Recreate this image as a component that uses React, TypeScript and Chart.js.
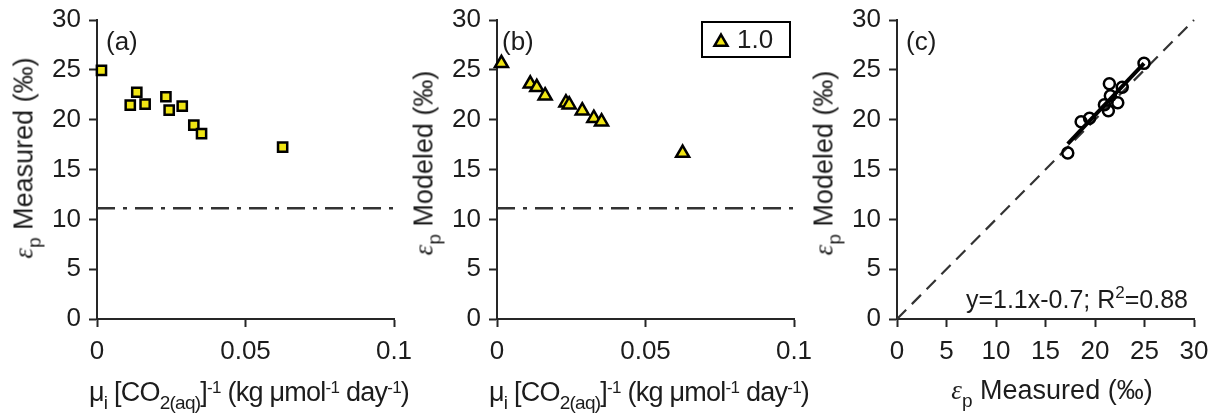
import React, { useEffect, useRef } from 'react';
import { Chart, registerables } from 'chart.js';

Chart.register(...registerables);

const FONT = '"Liberation Sans", Arial, Helvetica, sans-serif';
const INK = '#1c1c1c';
const AXIS = '#262626';
const YELLOW = '#f0e514';

// ---- data ----
const rateValues = [0.0015, 0.0112, 0.0134, 0.0162, 0.0232, 0.0243, 0.0287, 0.0326, 0.0352, 0.0625];
const measuredEps = [24.95, 21.45, 22.75, 21.55, 22.3, 20.95, 21.35, 19.45, 18.6, 17.25];
const modeledEps = [25.65, 23.6, 23.25, 22.4, 21.7, 21.5, 20.9, 20.15, 19.8, 16.65];
const epsFLevel = 11.1;
const epsFLineX = [0, 0.1];
const identityLine = [0, 30];
const rateTicks = [0, 0.05, 0.1];
const rateTickLabels = ['0', '0.05', '0.1'];
const epsTicks = [0, 5, 10, 15, 20, 25, 30];
const epsTickLabels = ['0', '5', '10', '15', '20', '25', '30'];
const panelLabels = ['(a)', '(b)', '(c)'];
const legendLabel = '1.0';
const fitLabelMain = 'y=1.1x-0.7; R';
const fitLabelSup = '2';
const fitLabelEnd = '=0.88';

function linearFit(xs: number[], ys: number[]) {
  const n = xs.length;
  const mx = xs.reduce((a, b) => a + b, 0) / n;
  const my = ys.reduce((a, b) => a + b, 0) / n;
  let sxy = 0, sxx = 0;
  for (let i = 0; i < n; i++) {
    sxy += (xs[i] - mx) * (ys[i] - my);
    sxx += (xs[i] - mx) * (xs[i] - mx);
  }
  const slope = sxy / sxx;
  return { slope, intercept: my - slope * mx };
}

const fit = linearFit(measuredEps, modeledEps);
const fitRange = [Math.min(...measuredEps), Math.max(...measuredEps)];

// ---- axes ----
function axis(kind: 'x' | 'y', min: number, max: number, ticks: number[], labels: string[]) {
  return {
    type: 'linear',
    min,
    max,
    afterBuildTicks: (s: any) => {
      s.ticks = ticks.map((v) => ({ value: v }));
    },
    afterFit: (s: any) => {
      if (kind === 'x') {
        s.height = 97;
        s.paddingLeft = 0;
        s.paddingRight = 0;
      } else {
        s.width = 97;
        s.paddingTop = 0;
        s.paddingBottom = 0;
      }
    },
    grid: {
      display: true,
      drawOnChartArea: false,
      drawTicks: true,
      tickLength: 8,
      tickColor: AXIS,
      tickWidth: 2,
    },
    border: { display: true, color: AXIS, width: 2 },
    ticks: {
      color: INK,
      font: { family: FONT, size: 26 },
      padding: kind === 'x' ? 9 : 8,
      maxRotation: 0,
      minRotation: 0,
      autoSkip: false,
      callback: (_v: any, i: number) => labels[i] ?? '',
    },
  };
}

function annotPlugin(panel: number) {
  return {
    id: 'annot' + panel,
    afterDraw(chart: any) {
      const { ctx, chartArea: ca } = chart;
      ctx.save();
      ctx.fillStyle = INK;
      ctx.textBaseline = 'alphabetic';
      ctx.textAlign = 'left';
      ctx.font = `26px ${FONT}`;
      const offs = [9, 5, 9];
      ctx.fillText(panelLabels[panel], ca.left + offs[panel], ca.top + 30);

      if (panel === 1) {
        const bx = ca.right - 92;
        const by = ca.top + 2;
        ctx.lineWidth = 2;
        ctx.strokeStyle = '#000';
        ctx.fillStyle = '#fff';
        ctx.fillRect(bx, by, 88, 35);
        ctx.strokeRect(bx, by, 88, 35);
        const cx = bx + 19;
        const cy = by + 20;
        const r = 7.5;
        ctx.beginPath();
        ctx.moveTo(cx, cy - r);
        ctx.lineTo(cx + r * Math.sin(Math.PI / 3), cy + r / 2);
        ctx.lineTo(cx - r * Math.sin(Math.PI / 3), cy + r / 2);
        ctx.closePath();
        ctx.fillStyle = YELLOW;
        ctx.lineWidth = 2.5;
        ctx.fill();
        ctx.stroke();
        ctx.fillStyle = INK;
        ctx.font = `26px ${FONT}`;
        ctx.fillText(legendLabel, bx + 35, by + 26);
      }

      if (panel === 2) {
        const big = `25px ${FONT}`;
        const small = `17px ${FONT}`;
        ctx.font = big;
        const w1 = ctx.measureText(fitLabelMain).width;
        const w3 = ctx.measureText(fitLabelEnd).width;
        ctx.font = small;
        const w2 = ctx.measureText(fitLabelSup).width;
        const base = ca.top + 288;
        let x = ca.right - 6 - (w1 + w2 + w3);
        ctx.font = big;
        ctx.fillText(fitLabelMain, x, base);
        x += w1;
        ctx.font = small;
        ctx.fillText(fitLabelSup, x, base - 10);
        x += w2;
        ctx.font = big;
        ctx.fillText(fitLabelEnd, x, base);
      }
      ctx.restore();
    },
  };
}

function baseOptions(xAxis: any, yAxis: any) {
  return {
    responsive: false,
    animation: false,
    devicePixelRatio: 1,
    events: [],
    layout: { padding: { left: 0, right: 23, top: 20, bottom: 0 } },
    plugins: { legend: { display: false }, tooltip: { enabled: false } },
    scales: { x: xAxis, y: yAxis },
  };
}

function epsFLine() {
  return {
    label: 'epsf',
    data: epsFLineX.map((x) => ({ x, y: epsFLevel })),
    showLine: true,
    borderColor: '#333333',
    borderWidth: 2.5,
    borderDash: [18, 8, 4, 8],
    pointRadius: 0,
    clip: false,
    order: 1,
  };
}

function configA(): any {
  return {
    type: 'scatter',
    data: {
      datasets: [
        {
          label: 'measured',
          data: rateValues.map((x, i) => ({ x, y: measuredEps[i] })),
          pointStyle: 'rect',
          pointRadius: 6.5,
          backgroundColor: YELLOW,
          borderColor: '#000',
          borderWidth: 2.5,
          clip: false,
          order: 0,
        },
        epsFLine(),
      ],
    },
    options: baseOptions(
      axis('x', 0, 0.1, rateTicks, rateTickLabels),
      axis('y', 0, 30, epsTicks, epsTickLabels)
    ),
    plugins: [annotPlugin(0)],
  };
}

function configB(): any {
  return {
    type: 'scatter',
    data: {
      datasets: [
        {
          label: legendLabel,
          data: rateValues.map((x, i) => ({ x, y: modeledEps[i] })),
          pointStyle: 'triangle',
          pointRadius: 7.5,
          backgroundColor: YELLOW,
          borderColor: '#000',
          borderWidth: 2.5,
          clip: false,
          order: 0,
        },
        epsFLine(),
      ],
    },
    options: baseOptions(
      axis('x', 0, 0.1, rateTicks, rateTickLabels),
      axis('y', 0, 30, epsTicks, epsTickLabels)
    ),
    plugins: [annotPlugin(1)],
  };
}

function configC(): any {
  return {
    type: 'scatter',
    data: {
      datasets: [
        {
          label: 'pairs',
          data: measuredEps.map((x, i) => ({ x, y: modeledEps[i] })),
          pointStyle: 'circle',
          pointRadius: 5.5,
          backgroundColor: 'rgba(255,255,255,0)',
          borderColor: '#000',
          borderWidth: 2.5,
          clip: false,
          order: 1,
        },
        {
          label: 'fit',
          data: fitRange.map((x) => ({ x, y: fit.slope * x + fit.intercept })),
          showLine: true,
          borderColor: '#000',
          borderWidth: 4,
          pointRadius: 0,
          clip: false,
          order: 0,
        },
        {
          label: 'identity',
          data: identityLine.map((v) => ({ x: v, y: v })),
          showLine: true,
          borderColor: '#333333',
          borderWidth: 2.2,
          borderDash: [13, 8],
          pointRadius: 0,
          clip: false,
          order: 2,
        },
      ],
    },
    options: baseOptions(
      axis('x', 0, 30, epsTicks, epsTickLabels),
      axis('y', 0, 30, epsTicks, epsTickLabels)
    ),
    plugins: [annotPlugin(2)],
  };
}

function Panel({ left, make }: { left: number; make: () => any }) {
  const ref = useRef<HTMLCanvasElement>(null);
  useEffect(() => {
    const chart = new Chart(ref.current as HTMLCanvasElement, make());
    return () => chart.destroy();
  }, []);
  return (
    <canvas
      ref={ref}
      width={417}
      height={416}
      style={{ position: 'absolute', left, top: 0, width: 417, height: 416 }}
    />
  );
}

const Sub = ({ children }: { children: React.ReactNode }) => (
  <span style={{ fontSize: 19, position: 'relative', top: 8, lineHeight: 0 }}>{children}</span>
);
const Sup = ({ children }: { children: React.ReactNode }) => (
  <span style={{ fontSize: 17, position: 'relative', top: -8, lineHeight: 0 }}>{children}</span>
);
const Eps = () => (
  <span style={{ fontFamily: '"Liberation Serif", serif', fontStyle: 'italic' }}>ε</span>
);

const rateTitle = (
  <>
    μ<Sub>i</Sub> [CO<Sub>2(aq)</Sub>]<Sup>-1</Sup> (kg μmol<Sup>-1</Sup> day<Sup>-1</Sup>)
  </>
);
const measuredTitle = (
  <>
    <Eps />
    <Sub>p</Sub> Measured (‰)
  </>
);
const modeledTitle = (
  <>
    <Eps />
    <Sub>p</Sub> Modeled (‰)
  </>
);

function Title({
  x,
  y,
  rotate,
  spacing,
  children,
}: {
  x: number;
  y: number;
  rotate?: boolean;
  spacing?: number;
  children: React.ReactNode;
}) {
  return (
    <div
      style={{
        position: 'absolute',
        left: x,
        top: y,
        transform: `translate(-50%, -50%)${rotate ? ' rotate(-90deg)' : ''}`,
        fontFamily: FONT,
        fontSize: 27,
        lineHeight: '27px',
        letterSpacing: spacing ? `${spacing}px` : 'normal',
        color: INK,
        whiteSpace: 'nowrap',
      }}
    >
      {children}
    </div>
  );
}

export default function App() {
  return (
    <div
      style={{
        position: 'fixed',
        left: 0,
        top: 0,
        width: 1217,
        height: 416,
        background: '#fff',
        overflow: 'hidden',
      }}
    >
      <Panel left={0} make={configA} />
      <Panel left={400} make={configB} />
      <Panel left={800} make={configC} />
      <Title x={23.6} y={157.5} rotate>{measuredTitle}</Title>
      <Title x={423.6} y={162.5} rotate>{modeledTitle}</Title>
      <Title x={823.6} y={162.5} rotate>{modeledTitle}</Title>
      <Title x={249} y={391.6} spacing={-0.75}>{rateTitle}</Title>
      <Title x={649} y={391.6} spacing={-0.75}>{rateTitle}</Title>
      <Title x={1052} y={389.6}>{measuredTitle}</Title>
    </div>
  );
}
